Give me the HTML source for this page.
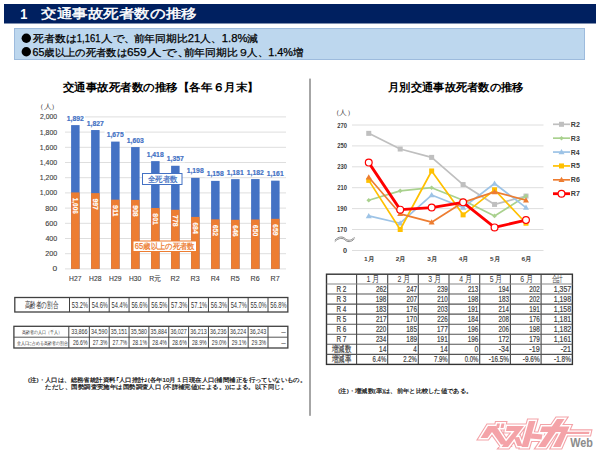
<!DOCTYPE html>
<html lang="ja"><head><meta charset="utf-8"><style>
html,body{margin:0;padding:0;background:#fff;width:600px;height:452px;overflow:hidden}
svg{display:block;font-family:"Liberation Sans", sans-serif}
</style></head><body>
<svg width="600" height="452" viewBox="0 0 600 452">
<rect width="600" height="452" fill="#fff"/>
<rect x="4" y="4" width="592" height="19.5" fill="#002060"/>
<text x="20.26" y="13.60" font-size="15.5" fill="#fff" font-weight="bold" dominant-baseline="central" textLength="7.09" lengthAdjust="spacingAndGlyphs" >1</text>
<text x="41.15" y="13.60" font-size="13.2" fill="#fff" font-weight="normal" dominant-baseline="central" textLength="155.56" lengthAdjust="spacingAndGlyphs" stroke="#fff" stroke-width="0.45">交通事故死者数の推移</text>
<rect x="14.5" y="28.5" width="570" height="31" fill="#bdd7ee" stroke="#9dbbdd" stroke-width="1"/>
<circle cx="26.3" cy="38.3" r="4.7" fill="#000"/>
<circle cx="26.3" cy="51.8" r="4.7" fill="#000"/>
<text x="32.90" y="38.20" font-size="10.4" fill="#000" font-weight="normal" dominant-baseline="central" textLength="43.54" lengthAdjust="spacingAndGlyphs" stroke="#000" stroke-width="0.25">死者数は</text>
<text x="76.87" y="38.20" font-size="10.4" fill="#000" font-weight="normal" dominant-baseline="central" textLength="23.57" lengthAdjust="spacingAndGlyphs" stroke="#000" stroke-width="0.25">1,161</text>
<text x="101.39" y="38.20" font-size="10.4" fill="#000" font-weight="normal" dominant-baseline="central" textLength="34.53" lengthAdjust="spacingAndGlyphs" stroke="#000" stroke-width="0.25">人で、</text>
<text x="133.64" y="38.20" font-size="10.4" fill="#000" font-weight="normal" dominant-baseline="central" textLength="124.67" lengthAdjust="spacingAndGlyphs" stroke="#000" stroke-width="0.25">前年同期比21人、1.8%減</text>
<text x="32.50" y="52.60" font-size="10.4" fill="#000" font-weight="normal" dominant-baseline="central" textLength="94.39" lengthAdjust="spacingAndGlyphs" stroke="#000" stroke-width="0.25">65歳以上の死者数は</text>
<text x="126.93" y="52.60" font-size="10.4" fill="#000" font-weight="normal" dominant-baseline="central" textLength="19.61" lengthAdjust="spacingAndGlyphs" stroke="#000" stroke-width="0.25">659</text>
<text x="147.36" y="52.60" font-size="10.4" fill="#000" font-weight="normal" dominant-baseline="central" textLength="43.97" lengthAdjust="spacingAndGlyphs" stroke="#000" stroke-width="0.25">人で、</text>
<text x="183.65" y="52.60" font-size="10.4" fill="#000" font-weight="normal" dominant-baseline="central" textLength="64.96" lengthAdjust="spacingAndGlyphs" stroke="#000" stroke-width="0.25">前年同期比９</text>
<text x="247.40" y="52.60" font-size="10.4" fill="#000" font-weight="normal" dominant-baseline="central" textLength="55.91" lengthAdjust="spacingAndGlyphs" stroke="#000" stroke-width="0.25">人、1.4%増</text>
<text x="62.60" y="86.70" font-size="11" fill="#000" font-weight="bold" dominant-baseline="central" textLength="196.11" lengthAdjust="spacingAndGlyphs" >交通事故死者数の推移【各年６月末】</text>
<text x="35.73" y="106.70" font-size="6.5" fill="#404040" font-weight="normal" dominant-baseline="central" textLength="23.54" lengthAdjust="spacingAndGlyphs" >（人）</text>
<line x1="65" x2="286" y1="268.90" y2="268.90" stroke="#dedede" stroke-width="1"/>
<text x="52.56" y="268.90" font-size="7" fill="#404040" font-weight="normal" dominant-baseline="central" textLength="4.67" lengthAdjust="spacingAndGlyphs" stroke="#404040" stroke-width="0.12">0</text>
<line x1="65" x2="286" y1="253.70" y2="253.70" stroke="#dedede" stroke-width="1"/>
<text x="45.19" y="253.70" font-size="7" fill="#404040" font-weight="normal" dominant-baseline="central" textLength="12.01" lengthAdjust="spacingAndGlyphs" stroke="#404040" stroke-width="0.12">200</text>
<line x1="65" x2="286" y1="238.50" y2="238.50" stroke="#dedede" stroke-width="1"/>
<text x="45.40" y="238.50" font-size="7" fill="#404040" font-weight="normal" dominant-baseline="central" textLength="11.80" lengthAdjust="spacingAndGlyphs" stroke="#404040" stroke-width="0.12">400</text>
<line x1="65" x2="286" y1="223.30" y2="223.30" stroke="#dedede" stroke-width="1"/>
<text x="45.19" y="223.30" font-size="7" fill="#404040" font-weight="normal" dominant-baseline="central" textLength="12.01" lengthAdjust="spacingAndGlyphs" stroke="#404040" stroke-width="0.12">600</text>
<line x1="65" x2="286" y1="208.10" y2="208.10" stroke="#dedede" stroke-width="1"/>
<text x="45.19" y="208.10" font-size="7" fill="#404040" font-weight="normal" dominant-baseline="central" textLength="12.01" lengthAdjust="spacingAndGlyphs" stroke="#404040" stroke-width="0.12">800</text>
<line x1="65" x2="286" y1="192.90" y2="192.90" stroke="#dedede" stroke-width="1"/>
<text x="39.80" y="192.90" font-size="7" fill="#404040" font-weight="normal" dominant-baseline="central" textLength="17.39" lengthAdjust="spacingAndGlyphs" stroke="#404040" stroke-width="0.12">1,000</text>
<line x1="65" x2="286" y1="177.70" y2="177.70" stroke="#dedede" stroke-width="1"/>
<text x="39.80" y="177.70" font-size="7" fill="#404040" font-weight="normal" dominant-baseline="central" textLength="17.39" lengthAdjust="spacingAndGlyphs" stroke="#404040" stroke-width="0.12">1,200</text>
<line x1="65" x2="286" y1="162.50" y2="162.50" stroke="#dedede" stroke-width="1"/>
<text x="39.80" y="162.50" font-size="7" fill="#404040" font-weight="normal" dominant-baseline="central" textLength="17.39" lengthAdjust="spacingAndGlyphs" stroke="#404040" stroke-width="0.12">1,400</text>
<line x1="65" x2="286" y1="147.30" y2="147.30" stroke="#dedede" stroke-width="1"/>
<text x="39.80" y="147.30" font-size="7" fill="#404040" font-weight="normal" dominant-baseline="central" textLength="17.39" lengthAdjust="spacingAndGlyphs" stroke="#404040" stroke-width="0.12">1,600</text>
<line x1="65" x2="286" y1="132.10" y2="132.10" stroke="#dedede" stroke-width="1"/>
<text x="39.80" y="132.10" font-size="7" fill="#404040" font-weight="normal" dominant-baseline="central" textLength="17.39" lengthAdjust="spacingAndGlyphs" stroke="#404040" stroke-width="0.12">1,800</text>
<line x1="65" x2="286" y1="116.90" y2="116.90" stroke="#dedede" stroke-width="1"/>
<text x="40.01" y="116.90" font-size="7" fill="#404040" font-weight="normal" dominant-baseline="central" textLength="17.18" lengthAdjust="spacingAndGlyphs" stroke="#404040" stroke-width="0.12">2,000</text>
<rect x="71.1" y="125.11" width="8.5" height="143.79" fill="#4472c4"/>
<rect x="71.1" y="192.44" width="8.5" height="76.46" fill="#ed7d31"/>
<rect x="64.60" y="113.61" width="20.40" height="8" fill="#fff"/>
<text x="66.73" y="118.11" font-size="7.3" fill="#4472c4" font-weight="bold" dominant-baseline="central" textLength="17.01" lengthAdjust="spacingAndGlyphs" stroke="#4472c4" stroke-width="0.2">1,892</text>
<text transform="translate(75.20,197.74) rotate(90)" font-size="7.8" fill="#fff" font-weight="bold" dominant-baseline="central" textLength="16" lengthAdjust="spacingAndGlyphs" stroke="#fff" stroke-width="0.15">1,006</text>
<text x="69.02" y="278.20" font-size="7" fill="#404040" font-weight="normal" dominant-baseline="central" textLength="12.36" lengthAdjust="spacingAndGlyphs" stroke="#404040" stroke-width="0.12">H27</text>
<rect x="91.1" y="130.05" width="8.5" height="138.85" fill="#4472c4"/>
<rect x="91.1" y="193.13" width="8.5" height="75.77" fill="#ed7d31"/>
<rect x="84.60" y="118.55" width="20.40" height="8" fill="#fff"/>
<text x="86.73" y="123.05" font-size="7.3" fill="#4472c4" font-weight="bold" dominant-baseline="central" textLength="17.01" lengthAdjust="spacingAndGlyphs" stroke="#4472c4" stroke-width="0.2">1,827</text>
<text transform="translate(95.20,198.43) rotate(90)" font-size="7.8" fill="#fff" font-weight="bold" dominant-baseline="central" textLength="11.5" lengthAdjust="spacingAndGlyphs" stroke="#fff" stroke-width="0.15">997</text>
<text x="89.02" y="278.20" font-size="7" fill="#404040" font-weight="normal" dominant-baseline="central" textLength="12.36" lengthAdjust="spacingAndGlyphs" stroke="#404040" stroke-width="0.12">H28</text>
<rect x="111.1" y="141.60" width="8.5" height="127.30" fill="#4472c4"/>
<rect x="111.1" y="199.66" width="8.5" height="69.24" fill="#ed7d31"/>
<rect x="104.60" y="130.10" width="20.40" height="8" fill="#fff"/>
<text x="106.73" y="134.60" font-size="7.3" fill="#4472c4" font-weight="bold" dominant-baseline="central" textLength="16.92" lengthAdjust="spacingAndGlyphs" stroke="#4472c4" stroke-width="0.2">1,675</text>
<text transform="translate(115.20,204.96) rotate(90)" font-size="7.8" fill="#fff" font-weight="bold" dominant-baseline="central" textLength="11.5" lengthAdjust="spacingAndGlyphs" stroke="#fff" stroke-width="0.15">911</text>
<text x="109.02" y="278.20" font-size="7" fill="#404040" font-weight="normal" dominant-baseline="central" textLength="12.36" lengthAdjust="spacingAndGlyphs" stroke="#404040" stroke-width="0.12">H29</text>
<rect x="131.1" y="147.07" width="8.5" height="121.83" fill="#4472c4"/>
<rect x="131.1" y="199.89" width="8.5" height="69.01" fill="#ed7d31"/>
<rect x="124.60" y="135.57" width="20.40" height="8" fill="#fff"/>
<text x="126.73" y="140.07" font-size="7.3" fill="#4472c4" font-weight="bold" dominant-baseline="central" textLength="17.01" lengthAdjust="spacingAndGlyphs" stroke="#4472c4" stroke-width="0.2">1,603</text>
<text transform="translate(135.20,205.19) rotate(90)" font-size="7.8" fill="#fff" font-weight="bold" dominant-baseline="central" textLength="11.5" lengthAdjust="spacingAndGlyphs" stroke="#fff" stroke-width="0.15">908</text>
<text x="129.02" y="278.20" font-size="7" fill="#404040" font-weight="normal" dominant-baseline="central" textLength="12.26" lengthAdjust="spacingAndGlyphs" stroke="#404040" stroke-width="0.12">H30</text>
<rect x="151.1" y="161.13" width="8.5" height="107.77" fill="#4472c4"/>
<rect x="151.1" y="208.02" width="8.5" height="60.88" fill="#ed7d31"/>
<rect x="144.60" y="149.63" width="20.40" height="8" fill="#fff"/>
<text x="146.73" y="154.13" font-size="7.3" fill="#4472c4" font-weight="bold" dominant-baseline="central" textLength="16.92" lengthAdjust="spacingAndGlyphs" stroke="#4472c4" stroke-width="0.2">1,418</text>
<text transform="translate(155.20,213.32) rotate(90)" font-size="7.8" fill="#fff" font-weight="bold" dominant-baseline="central" textLength="11.5" lengthAdjust="spacingAndGlyphs" stroke="#fff" stroke-width="0.15">801</text>
<text x="149.31" y="278.20" font-size="7" fill="#404040" font-weight="normal" dominant-baseline="central" textLength="11.78" lengthAdjust="spacingAndGlyphs" stroke="#404040" stroke-width="0.12">R元</text>
<rect x="171.1" y="165.77" width="8.5" height="103.13" fill="#4472c4"/>
<rect x="171.1" y="209.77" width="8.5" height="59.13" fill="#ed7d31"/>
<rect x="164.60" y="154.27" width="20.40" height="8" fill="#fff"/>
<text x="166.73" y="158.77" font-size="7.3" fill="#4472c4" font-weight="bold" dominant-baseline="central" textLength="17.01" lengthAdjust="spacingAndGlyphs" stroke="#4472c4" stroke-width="0.2">1,357</text>
<text transform="translate(175.20,215.07) rotate(90)" font-size="7.8" fill="#fff" font-weight="bold" dominant-baseline="central" textLength="11.5" lengthAdjust="spacingAndGlyphs" stroke="#fff" stroke-width="0.15">778</text>
<text x="170.64" y="278.20" font-size="7" fill="#404040" font-weight="normal" dominant-baseline="central" textLength="9.11" lengthAdjust="spacingAndGlyphs" stroke="#404040" stroke-width="0.12">R2</text>
<rect x="191.1" y="177.85" width="8.5" height="91.05" fill="#4472c4"/>
<rect x="191.1" y="216.92" width="8.5" height="51.98" fill="#ed7d31"/>
<rect x="184.60" y="166.35" width="20.40" height="8" fill="#fff"/>
<text x="186.73" y="170.85" font-size="7.3" fill="#4472c4" font-weight="bold" dominant-baseline="central" textLength="16.92" lengthAdjust="spacingAndGlyphs" stroke="#4472c4" stroke-width="0.2">1,198</text>
<text transform="translate(195.20,222.22) rotate(90)" font-size="7.8" fill="#fff" font-weight="bold" dominant-baseline="central" textLength="11.5" lengthAdjust="spacingAndGlyphs" stroke="#fff" stroke-width="0.15">684</text>
<text x="190.64" y="278.20" font-size="7" fill="#404040" font-weight="normal" dominant-baseline="central" textLength="9.11" lengthAdjust="spacingAndGlyphs" stroke="#404040" stroke-width="0.12">R3</text>
<rect x="211.1" y="180.89" width="8.5" height="88.01" fill="#4472c4"/>
<rect x="211.1" y="219.35" width="8.5" height="49.55" fill="#ed7d31"/>
<rect x="204.60" y="169.39" width="20.40" height="8" fill="#fff"/>
<text x="206.73" y="173.89" font-size="7.3" fill="#4472c4" font-weight="bold" dominant-baseline="central" textLength="16.92" lengthAdjust="spacingAndGlyphs" stroke="#4472c4" stroke-width="0.2">1,158</text>
<text transform="translate(215.20,224.65) rotate(90)" font-size="7.8" fill="#fff" font-weight="bold" dominant-baseline="central" textLength="11.5" lengthAdjust="spacingAndGlyphs" stroke="#fff" stroke-width="0.15">652</text>
<text x="210.65" y="278.20" font-size="7" fill="#404040" font-weight="normal" dominant-baseline="central" textLength="9.00" lengthAdjust="spacingAndGlyphs" stroke="#404040" stroke-width="0.12">R4</text>
<rect x="231.1" y="179.14" width="8.5" height="89.76" fill="#4472c4"/>
<rect x="231.1" y="219.80" width="8.5" height="49.10" fill="#ed7d31"/>
<rect x="224.60" y="167.64" width="20.40" height="8" fill="#fff"/>
<text x="226.73" y="172.14" font-size="7.3" fill="#4472c4" font-weight="bold" dominant-baseline="central" textLength="16.92" lengthAdjust="spacingAndGlyphs" stroke="#4472c4" stroke-width="0.2">1,181</text>
<text transform="translate(235.20,225.10) rotate(90)" font-size="7.8" fill="#fff" font-weight="bold" dominant-baseline="central" textLength="11.5" lengthAdjust="spacingAndGlyphs" stroke="#fff" stroke-width="0.15">646</text>
<text x="230.64" y="278.20" font-size="7" fill="#404040" font-weight="normal" dominant-baseline="central" textLength="9.11" lengthAdjust="spacingAndGlyphs" stroke="#404040" stroke-width="0.12">R5</text>
<rect x="251.1" y="179.07" width="8.5" height="89.83" fill="#4472c4"/>
<rect x="251.1" y="219.50" width="8.5" height="49.40" fill="#ed7d31"/>
<rect x="244.60" y="167.57" width="20.40" height="8" fill="#fff"/>
<text x="246.73" y="172.07" font-size="7.3" fill="#4472c4" font-weight="bold" dominant-baseline="central" textLength="17.01" lengthAdjust="spacingAndGlyphs" stroke="#4472c4" stroke-width="0.2">1,182</text>
<text transform="translate(255.20,224.80) rotate(90)" font-size="7.8" fill="#fff" font-weight="bold" dominant-baseline="central" textLength="11.5" lengthAdjust="spacingAndGlyphs" stroke="#fff" stroke-width="0.15">650</text>
<text x="250.64" y="278.20" font-size="7" fill="#404040" font-weight="normal" dominant-baseline="central" textLength="9.11" lengthAdjust="spacingAndGlyphs" stroke="#404040" stroke-width="0.12">R6</text>
<rect x="271.1" y="180.66" width="8.5" height="88.24" fill="#4472c4"/>
<rect x="271.1" y="218.82" width="8.5" height="50.08" fill="#ed7d31"/>
<rect x="264.60" y="169.16" width="20.40" height="8" fill="#fff"/>
<text x="266.73" y="173.66" font-size="7.3" fill="#4472c4" font-weight="bold" dominant-baseline="central" textLength="16.92" lengthAdjust="spacingAndGlyphs" stroke="#4472c4" stroke-width="0.2">1,161</text>
<text transform="translate(275.20,224.12) rotate(90)" font-size="7.8" fill="#fff" font-weight="bold" dominant-baseline="central" textLength="11.5" lengthAdjust="spacingAndGlyphs" stroke="#fff" stroke-width="0.15">659</text>
<text x="270.64" y="278.20" font-size="7" fill="#404040" font-weight="normal" dominant-baseline="central" textLength="9.11" lengthAdjust="spacingAndGlyphs" stroke="#404040" stroke-width="0.12">R7</text>
<rect x="142.5" y="173.5" width="39.5" height="11" fill="#fff" stroke="#4472c4" stroke-width="1"/>
<text x="147.91" y="178.60" font-size="8.3" fill="#4472c4" font-weight="normal" dominant-baseline="central" textLength="29.57" lengthAdjust="spacingAndGlyphs" stroke="#4472c4" stroke-width="0.25">全死者数</text>
<rect x="133" y="241" width="63.5" height="10.5" fill="#fff" stroke="#ed7d31" stroke-width="1"/>
<text x="134.85" y="246.30" font-size="8.3" fill="#ed7d31" font-weight="normal" dominant-baseline="central" textLength="59.83" lengthAdjust="spacingAndGlyphs" stroke="#ed7d31" stroke-width="0.25">65歳以上の死者数</text>
<rect x="14.8" y="297.5" width="273.05" height="14.5" fill="none" stroke="#404040" stroke-width="1.3"/>
<line x1="69.50" x2="69.50" y1="297.5" y2="312" stroke="#404040" stroke-width="1"/>
<line x1="89.35" x2="89.35" y1="297.5" y2="312" stroke="#404040" stroke-width="1"/>
<line x1="109.20" x2="109.20" y1="297.5" y2="312" stroke="#404040" stroke-width="1"/>
<line x1="129.05" x2="129.05" y1="297.5" y2="312" stroke="#404040" stroke-width="1"/>
<line x1="148.90" x2="148.90" y1="297.5" y2="312" stroke="#404040" stroke-width="1"/>
<line x1="168.75" x2="168.75" y1="297.5" y2="312" stroke="#404040" stroke-width="1"/>
<line x1="188.60" x2="188.60" y1="297.5" y2="312" stroke="#404040" stroke-width="1"/>
<line x1="208.45" x2="208.45" y1="297.5" y2="312" stroke="#404040" stroke-width="1"/>
<line x1="228.30" x2="228.30" y1="297.5" y2="312" stroke="#404040" stroke-width="1"/>
<line x1="248.15" x2="248.15" y1="297.5" y2="312" stroke="#404040" stroke-width="1"/>
<line x1="268.00" x2="268.00" y1="297.5" y2="312" stroke="#404040" stroke-width="1"/>
<text x="24.65" y="305.00" font-size="9" fill="#333" font-weight="normal" dominant-baseline="central" textLength="33.60" lengthAdjust="spacingAndGlyphs" >高齢者の割合</text>
<text x="71.86" y="304.80" font-size="9" fill="#333" font-weight="normal" dominant-baseline="central" textLength="16.18" lengthAdjust="spacingAndGlyphs" >53.2%</text>
<text x="91.71" y="304.80" font-size="9" fill="#333" font-weight="normal" dominant-baseline="central" textLength="16.18" lengthAdjust="spacingAndGlyphs" >54.6%</text>
<text x="111.56" y="304.80" font-size="9" fill="#333" font-weight="normal" dominant-baseline="central" textLength="16.18" lengthAdjust="spacingAndGlyphs" >54.4%</text>
<text x="131.41" y="304.80" font-size="9" fill="#333" font-weight="normal" dominant-baseline="central" textLength="16.18" lengthAdjust="spacingAndGlyphs" >56.6%</text>
<text x="151.26" y="304.80" font-size="9" fill="#333" font-weight="normal" dominant-baseline="central" textLength="16.18" lengthAdjust="spacingAndGlyphs" >56.5%</text>
<text x="171.11" y="304.80" font-size="9" fill="#333" font-weight="normal" dominant-baseline="central" textLength="16.18" lengthAdjust="spacingAndGlyphs" >57.3%</text>
<text x="190.96" y="304.80" font-size="9" fill="#333" font-weight="normal" dominant-baseline="central" textLength="16.18" lengthAdjust="spacingAndGlyphs" >57.1%</text>
<text x="210.81" y="304.80" font-size="9" fill="#333" font-weight="normal" dominant-baseline="central" textLength="16.18" lengthAdjust="spacingAndGlyphs" >56.3%</text>
<text x="230.66" y="304.80" font-size="9" fill="#333" font-weight="normal" dominant-baseline="central" textLength="16.18" lengthAdjust="spacingAndGlyphs" >54.7%</text>
<text x="250.51" y="304.80" font-size="9" fill="#333" font-weight="normal" dominant-baseline="central" textLength="16.18" lengthAdjust="spacingAndGlyphs" >55.0%</text>
<text x="270.36" y="304.80" font-size="9" fill="#333" font-weight="normal" dominant-baseline="central" textLength="16.18" lengthAdjust="spacingAndGlyphs" >56.8%</text>
<rect x="13.9" y="326.3" width="273.95" height="21.70" fill="none" stroke="#404040" stroke-width="1.3"/>
<line x1="13.9" x2="287.85" y1="337.2" y2="337.2" stroke="#555" stroke-width="1"/>
<line x1="68.80" x2="68.80" y1="326.3" y2="348" stroke="#404040" stroke-width="1"/>
<line x1="89.35" x2="89.35" y1="326.3" y2="348" stroke="#404040" stroke-width="1"/>
<line x1="109.20" x2="109.20" y1="326.3" y2="348" stroke="#404040" stroke-width="1"/>
<line x1="129.05" x2="129.05" y1="326.3" y2="348" stroke="#404040" stroke-width="1"/>
<line x1="148.90" x2="148.90" y1="326.3" y2="348" stroke="#404040" stroke-width="1"/>
<line x1="168.75" x2="168.75" y1="326.3" y2="348" stroke="#404040" stroke-width="1"/>
<line x1="188.60" x2="188.60" y1="326.3" y2="348" stroke="#404040" stroke-width="1"/>
<line x1="208.45" x2="208.45" y1="326.3" y2="348" stroke="#404040" stroke-width="1"/>
<line x1="228.30" x2="228.30" y1="326.3" y2="348" stroke="#404040" stroke-width="1"/>
<line x1="248.15" x2="248.15" y1="326.3" y2="348" stroke="#404040" stroke-width="1"/>
<line x1="268.00" x2="268.00" y1="326.3" y2="348" stroke="#404040" stroke-width="1"/>
<text x="21.54" y="331.80" font-size="5" fill="#333" font-weight="normal" dominant-baseline="central" textLength="40.23" lengthAdjust="spacingAndGlyphs" >高齢者の人口（千人）</text>
<text x="16.70" y="342.60" font-size="5" fill="#333" font-weight="normal" dominant-baseline="central" textLength="50.96" lengthAdjust="spacingAndGlyphs" >全人口に占める高齢者の割合</text>
<text x="71.15" y="331.80" font-size="8" fill="#333" font-weight="normal" dominant-baseline="central" textLength="16.44" lengthAdjust="spacingAndGlyphs" >33,866</text>
<text x="72.89" y="342.60" font-size="8" fill="#333" font-weight="normal" dominant-baseline="central" textLength="14.59" lengthAdjust="spacingAndGlyphs" >26.6%</text>
<text x="91.00" y="331.80" font-size="8" fill="#333" font-weight="normal" dominant-baseline="central" textLength="16.37" lengthAdjust="spacingAndGlyphs" >34,590</text>
<text x="92.74" y="342.60" font-size="8" fill="#333" font-weight="normal" dominant-baseline="central" textLength="14.59" lengthAdjust="spacingAndGlyphs" >27.3%</text>
<text x="110.85" y="331.80" font-size="8" fill="#333" font-weight="normal" dominant-baseline="central" textLength="16.44" lengthAdjust="spacingAndGlyphs" >35,151</text>
<text x="112.59" y="342.60" font-size="8" fill="#333" font-weight="normal" dominant-baseline="central" textLength="14.59" lengthAdjust="spacingAndGlyphs" >27.7%</text>
<text x="130.70" y="331.80" font-size="8" fill="#333" font-weight="normal" dominant-baseline="central" textLength="16.37" lengthAdjust="spacingAndGlyphs" >35,580</text>
<text x="132.44" y="342.60" font-size="8" fill="#333" font-weight="normal" dominant-baseline="central" textLength="14.59" lengthAdjust="spacingAndGlyphs" >28.1%</text>
<text x="150.55" y="331.80" font-size="8" fill="#333" font-weight="normal" dominant-baseline="central" textLength="16.30" lengthAdjust="spacingAndGlyphs" >35,884</text>
<text x="152.29" y="342.60" font-size="8" fill="#333" font-weight="normal" dominant-baseline="central" textLength="14.59" lengthAdjust="spacingAndGlyphs" >28.4%</text>
<text x="170.40" y="331.80" font-size="8" fill="#333" font-weight="normal" dominant-baseline="central" textLength="16.44" lengthAdjust="spacingAndGlyphs" >36,027</text>
<text x="172.14" y="342.60" font-size="8" fill="#333" font-weight="normal" dominant-baseline="central" textLength="14.59" lengthAdjust="spacingAndGlyphs" >28.6%</text>
<text x="190.25" y="331.80" font-size="8" fill="#333" font-weight="normal" dominant-baseline="central" textLength="16.44" lengthAdjust="spacingAndGlyphs" >36,213</text>
<text x="191.99" y="342.60" font-size="8" fill="#333" font-weight="normal" dominant-baseline="central" textLength="14.59" lengthAdjust="spacingAndGlyphs" >28.9%</text>
<text x="210.10" y="331.80" font-size="8" fill="#333" font-weight="normal" dominant-baseline="central" textLength="16.44" lengthAdjust="spacingAndGlyphs" >36,236</text>
<text x="211.84" y="342.60" font-size="8" fill="#333" font-weight="normal" dominant-baseline="central" textLength="14.59" lengthAdjust="spacingAndGlyphs" >29.0%</text>
<text x="229.95" y="331.80" font-size="8" fill="#333" font-weight="normal" dominant-baseline="central" textLength="16.30" lengthAdjust="spacingAndGlyphs" >36,224</text>
<text x="231.69" y="342.60" font-size="8" fill="#333" font-weight="normal" dominant-baseline="central" textLength="14.59" lengthAdjust="spacingAndGlyphs" >29.1%</text>
<text x="249.80" y="331.80" font-size="8" fill="#333" font-weight="normal" dominant-baseline="central" textLength="16.44" lengthAdjust="spacingAndGlyphs" >36,243</text>
<text x="251.54" y="342.60" font-size="8" fill="#333" font-weight="normal" dominant-baseline="central" textLength="14.59" lengthAdjust="spacingAndGlyphs" >29.3%</text>
<text x="281.35" y="331.80" font-size="7" fill="#333" font-weight="normal" dominant-baseline="central" textLength="4.50" lengthAdjust="spacingAndGlyphs" >—</text>
<text x="281.35" y="342.60" font-size="7" fill="#333" font-weight="normal" dominant-baseline="central" textLength="4.50" lengthAdjust="spacingAndGlyphs" >—</text>
<text x="27.97" y="380.30" font-size="5.8" fill="#111" font-weight="normal" dominant-baseline="central" textLength="278.32" lengthAdjust="spacingAndGlyphs" stroke="#111" stroke-width="0.2">(注)・人口は、総務省統計資料｢人口推計｣(各年10月１日現在人口(補間補正を行っていないもの。</text>
<text x="45.47" y="386.50" font-size="5.8" fill="#111" font-weight="normal" dominant-baseline="central" textLength="241.63" lengthAdjust="spacingAndGlyphs" stroke="#111" stroke-width="0.2">ただし、国勢調査実施年は国勢調査人口 (不詳補完値)による。))による。以下同じ。</text>
<rect x="309" y="78.6" width="2" height="337.2" fill="#a6a6a6"/>
<text x="388.10" y="86.80" font-size="11" fill="#000" font-weight="bold" dominant-baseline="central" textLength="135.50" lengthAdjust="spacingAndGlyphs" >月別交通事故死者数の推移</text>
<text x="331.67" y="112.50" font-size="6.5" fill="#404040" font-weight="normal" dominant-baseline="central" textLength="23.36" lengthAdjust="spacingAndGlyphs" >（人）</text>
<line x1="352" x2="543.5" y1="125.00" y2="125.00" stroke="#dedede" stroke-width="1"/>
<text x="337.22" y="125.00" font-size="6.5" fill="#404040" font-weight="bold" dominant-baseline="central" textLength="9.77" lengthAdjust="spacingAndGlyphs" >270</text>
<line x1="352" x2="543.5" y1="145.90" y2="145.90" stroke="#dedede" stroke-width="1"/>
<text x="337.22" y="145.90" font-size="6.5" fill="#404040" font-weight="bold" dominant-baseline="central" textLength="9.77" lengthAdjust="spacingAndGlyphs" >250</text>
<line x1="352" x2="543.5" y1="166.80" y2="166.80" stroke="#dedede" stroke-width="1"/>
<text x="337.22" y="166.80" font-size="6.5" fill="#404040" font-weight="bold" dominant-baseline="central" textLength="9.77" lengthAdjust="spacingAndGlyphs" >230</text>
<line x1="352" x2="543.5" y1="187.70" y2="187.70" stroke="#dedede" stroke-width="1"/>
<text x="337.22" y="187.70" font-size="6.5" fill="#404040" font-weight="bold" dominant-baseline="central" textLength="9.77" lengthAdjust="spacingAndGlyphs" >210</text>
<line x1="352" x2="543.5" y1="208.60" y2="208.60" stroke="#dedede" stroke-width="1"/>
<text x="337.03" y="208.60" font-size="6.5" fill="#404040" font-weight="bold" dominant-baseline="central" textLength="9.97" lengthAdjust="spacingAndGlyphs" >190</text>
<line x1="352" x2="543.5" y1="229.50" y2="229.50" stroke="#dedede" stroke-width="1"/>
<text x="337.03" y="229.50" font-size="6.5" fill="#404040" font-weight="bold" dominant-baseline="central" textLength="9.97" lengthAdjust="spacingAndGlyphs" >170</text>
<line x1="352" x2="543.5" y1="250.50" y2="250.50" stroke="#dedede" stroke-width="1"/>
<text x="342.97" y="250.50" font-size="6.5" fill="#404040" font-weight="bold" dominant-baseline="central" textLength="4.07" lengthAdjust="spacingAndGlyphs" >0</text>
<path d="M334.8 240.2 C339 236, 343 236.5, 345 238.5 S351 241.5, 354.5 237.2" fill="none" stroke="#8c8c8c" stroke-width="1"/>
<path d="M334.8 241.6 C339 237.4, 343 237.9, 345 239.9 S351 242.9, 354.5 238.6" fill="none" stroke="#8c8c8c" stroke-width="1"/>
<text x="364.12" y="258.50" font-size="6" fill="#404040" font-weight="bold" dominant-baseline="central" textLength="10.25" lengthAdjust="spacingAndGlyphs" >1月</text>
<text x="395.68" y="258.50" font-size="6" fill="#404040" font-weight="bold" dominant-baseline="central" textLength="10.12" lengthAdjust="spacingAndGlyphs" >2月</text>
<text x="427.24" y="258.50" font-size="6" fill="#404040" font-weight="bold" dominant-baseline="central" textLength="9.99" lengthAdjust="spacingAndGlyphs" >3月</text>
<text x="458.80" y="258.50" font-size="6" fill="#404040" font-weight="bold" dominant-baseline="central" textLength="9.87" lengthAdjust="spacingAndGlyphs" >4月</text>
<text x="490.14" y="258.50" font-size="6" fill="#404040" font-weight="bold" dominant-baseline="central" textLength="9.99" lengthAdjust="spacingAndGlyphs" >5月</text>
<text x="521.48" y="258.50" font-size="6" fill="#404040" font-weight="bold" dominant-baseline="central" textLength="10.12" lengthAdjust="spacingAndGlyphs" >6月</text>
<polyline points="368.75,133.36 400.20,149.03 431.65,157.39 463.10,184.56 494.55,204.42 526.00,196.06" fill="none" stroke="#bfbfbf" stroke-width="1.7" stroke-linejoin="round"/>
<rect x="366.25" y="130.86" width="5.0" height="5.0" fill="#bfbfbf"/>
<rect x="397.70" y="146.53" width="5.0" height="5.0" fill="#bfbfbf"/>
<rect x="429.15" y="154.89" width="5.0" height="5.0" fill="#bfbfbf"/>
<rect x="460.60" y="182.06" width="5.0" height="5.0" fill="#bfbfbf"/>
<rect x="492.05" y="201.92" width="5.0" height="5.0" fill="#bfbfbf"/>
<rect x="523.50" y="193.56" width="5.0" height="5.0" fill="#bfbfbf"/>
<line x1="553" x2="570" y1="124.30" y2="124.30" stroke="#bfbfbf" stroke-width="1.7"/>
<rect x="559.00" y="121.80" width="5.0" height="5.0" fill="#bfbfbf"/>
<text x="570.86" y="124.30" font-size="6.4" fill="#404040" font-weight="bold" dominant-baseline="central" textLength="9.02" lengthAdjust="spacingAndGlyphs" >R2</text>
<polyline points="368.75,200.24 400.20,190.83 431.65,187.70 463.10,200.24 494.55,215.91 526.00,196.06" fill="none" stroke="#a9d18e" stroke-width="1.7" stroke-linejoin="round"/>
<path d="M368.75 197.94 L371.05 200.24 L368.75 202.54 L366.45 200.24Z" fill="#a9d18e"/>
<path d="M400.20 188.53 L402.50 190.83 L400.20 193.13 L397.90 190.83Z" fill="#a9d18e"/>
<path d="M431.65 185.40 L433.95 187.70 L431.65 190.00 L429.35 187.70Z" fill="#a9d18e"/>
<path d="M463.10 197.94 L465.40 200.24 L463.10 202.54 L460.80 200.24Z" fill="#a9d18e"/>
<path d="M494.55 213.61 L496.85 215.91 L494.55 218.22 L492.25 215.91Z" fill="#a9d18e"/>
<path d="M526.00 193.76 L528.30 196.06 L526.00 198.36 L523.70 196.06Z" fill="#a9d18e"/>
<line x1="553" x2="570" y1="138.18" y2="138.18" stroke="#a9d18e" stroke-width="1.7"/>
<path d="M561.50 135.88 L563.80 138.18 L561.50 140.48 L559.20 138.18Z" fill="#a9d18e"/>
<text x="570.86" y="138.18" font-size="6.4" fill="#404040" font-weight="bold" dominant-baseline="central" textLength="9.02" lengthAdjust="spacingAndGlyphs" >R3</text>
<polyline points="368.75,215.91 400.20,223.23 431.65,195.01 463.10,207.56 494.55,183.52 526.00,207.56" fill="none" stroke="#9dc3e6" stroke-width="1.7" stroke-linejoin="round"/>
<path d="M368.75 212.91 L371.75 218.16 L365.75 218.16Z" fill="#9dc3e6"/>
<path d="M400.20 220.23 L403.20 225.48 L397.20 225.48Z" fill="#9dc3e6"/>
<path d="M431.65 192.01 L434.65 197.26 L428.65 197.26Z" fill="#9dc3e6"/>
<path d="M463.10 204.56 L466.10 209.81 L460.10 209.81Z" fill="#9dc3e6"/>
<path d="M494.55 180.52 L497.55 185.77 L491.55 185.77Z" fill="#9dc3e6"/>
<path d="M526.00 204.56 L529.00 209.81 L523.00 209.81Z" fill="#9dc3e6"/>
<line x1="553" x2="570" y1="152.06" y2="152.06" stroke="#9dc3e6" stroke-width="1.7"/>
<path d="M561.50 149.06 L564.50 154.31 L558.50 154.31Z" fill="#9dc3e6"/>
<text x="570.87" y="152.06" font-size="6.4" fill="#404040" font-weight="bold" dominant-baseline="central" textLength="8.79" lengthAdjust="spacingAndGlyphs" >R4</text>
<polyline points="368.75,180.38 400.20,229.50 431.65,170.98 463.10,214.87 494.55,189.79 526.00,223.23" fill="none" stroke="#ffc000" stroke-width="1.7" stroke-linejoin="round"/>
<rect x="366.25" y="177.88" width="5.0" height="5.0" fill="#ffc000"/>
<rect x="397.70" y="227.00" width="5.0" height="5.0" fill="#ffc000"/>
<rect x="429.15" y="168.48" width="5.0" height="5.0" fill="#ffc000"/>
<rect x="460.60" y="212.37" width="5.0" height="5.0" fill="#ffc000"/>
<rect x="492.05" y="187.29" width="5.0" height="5.0" fill="#ffc000"/>
<rect x="523.50" y="220.73" width="5.0" height="5.0" fill="#ffc000"/>
<line x1="553" x2="570" y1="165.94" y2="165.94" stroke="#ffc000" stroke-width="1.7"/>
<rect x="559.00" y="163.44" width="5.0" height="5.0" fill="#ffc000"/>
<text x="570.86" y="165.94" font-size="6.4" fill="#404040" font-weight="bold" dominant-baseline="central" textLength="9.02" lengthAdjust="spacingAndGlyphs" >R5</text>
<polyline points="368.75,177.25 400.20,213.82 431.65,222.19 463.10,202.33 494.55,191.88 526.00,200.24" fill="none" stroke="#ed7d31" stroke-width="1.7" stroke-linejoin="round"/>
<path d="M368.75 174.25 L371.75 179.50 L365.75 179.50Z" fill="#ed7d31"/>
<path d="M400.20 210.82 L403.20 216.07 L397.20 216.07Z" fill="#ed7d31"/>
<path d="M431.65 219.19 L434.65 224.44 L428.65 224.44Z" fill="#ed7d31"/>
<path d="M463.10 199.33 L466.10 204.58 L460.10 204.58Z" fill="#ed7d31"/>
<path d="M494.55 188.88 L497.55 194.13 L491.55 194.13Z" fill="#ed7d31"/>
<path d="M526.00 197.24 L529.00 202.49 L523.00 202.49Z" fill="#ed7d31"/>
<line x1="553" x2="570" y1="179.82" y2="179.82" stroke="#ed7d31" stroke-width="1.7"/>
<path d="M561.50 176.82 L564.50 182.07 L558.50 182.07Z" fill="#ed7d31"/>
<text x="570.86" y="179.82" font-size="6.4" fill="#404040" font-weight="bold" dominant-baseline="central" textLength="9.02" lengthAdjust="spacingAndGlyphs" >R6</text>
<polyline points="368.75,162.62 400.20,209.64 431.65,207.56 463.10,202.33 494.55,227.41 526.00,220.09" fill="none" stroke="#ff0000" stroke-width="2.8" stroke-linejoin="round"/>
<circle cx="368.75" cy="162.62" r="3.4" fill="#fff" stroke="#ff0000" stroke-width="1.2"/>
<circle cx="400.20" cy="209.64" r="3.4" fill="#fff" stroke="#ff0000" stroke-width="1.2"/>
<circle cx="431.65" cy="207.56" r="3.4" fill="#fff" stroke="#ff0000" stroke-width="1.2"/>
<circle cx="463.10" cy="202.33" r="3.4" fill="#fff" stroke="#ff0000" stroke-width="1.2"/>
<circle cx="494.55" cy="227.41" r="3.4" fill="#fff" stroke="#ff0000" stroke-width="1.2"/>
<circle cx="526.00" cy="220.09" r="3.4" fill="#fff" stroke="#ff0000" stroke-width="1.2"/>
<line x1="553" x2="570" y1="193.70" y2="193.70" stroke="#ff0000" stroke-width="2.8"/>
<circle cx="561.50" cy="193.70" r="3.4" fill="#fff" stroke="#ff0000" stroke-width="1.2"/>
<text x="570.85" y="193.70" font-size="6.4" fill="#404040" font-weight="bold" dominant-baseline="central" textLength="9.14" lengthAdjust="spacingAndGlyphs" >R7</text>
<rect x="326.5" y="274.2" width="245.90" height="90.20" fill="none" stroke="#333" stroke-width="1.4"/>
<line x1="356.6" x2="356.6" y1="274.2" y2="364.4" stroke="#444" stroke-width="1.1"/>
<line x1="387.7" x2="387.7" y1="274.2" y2="364.4" stroke="#444" stroke-width="1.1"/>
<line x1="418.3" x2="418.3" y1="274.2" y2="364.4" stroke="#444" stroke-width="1.1"/>
<line x1="449.0" x2="449.0" y1="274.2" y2="364.4" stroke="#444" stroke-width="1.1"/>
<line x1="479.7" x2="479.7" y1="274.2" y2="364.4" stroke="#444" stroke-width="1.1"/>
<line x1="510.4" x2="510.4" y1="274.2" y2="364.4" stroke="#444" stroke-width="1.1"/>
<line x1="541.1" x2="541.1" y1="274.2" y2="364.4" stroke="#444" stroke-width="1.1"/>
<line x1="326.5" x2="572.4" y1="284.00" y2="284.00" stroke="#888" stroke-width="1.1"/>
<line x1="326.5" x2="572.4" y1="294.05" y2="294.05" stroke="#555" stroke-width="1.1"/>
<line x1="326.5" x2="572.4" y1="304.10" y2="304.10" stroke="#555" stroke-width="1.1"/>
<line x1="326.5" x2="572.4" y1="314.15" y2="314.15" stroke="#555" stroke-width="1.1"/>
<line x1="326.5" x2="572.4" y1="324.20" y2="324.20" stroke="#555" stroke-width="1.1"/>
<line x1="326.5" x2="572.4" y1="334.25" y2="334.25" stroke="#555" stroke-width="1.1"/>
<line x1="326.5" x2="572.4" y1="344.30" y2="344.30" stroke="#555" stroke-width="1.1"/>
<line x1="326.5" x2="572.4" y1="354.35" y2="354.35" stroke="#555" stroke-width="1.1"/>
<text x="366.54" y="279.10" font-size="8.6" fill="#404040" font-weight="normal" dominant-baseline="central" textLength="13.31" lengthAdjust="spacingAndGlyphs" >1 月</text>
<text x="397.57" y="279.10" font-size="8.6" fill="#404040" font-weight="normal" dominant-baseline="central" textLength="13.11" lengthAdjust="spacingAndGlyphs" >2 月</text>
<text x="428.30" y="279.10" font-size="8.6" fill="#404040" font-weight="normal" dominant-baseline="central" textLength="13.02" lengthAdjust="spacingAndGlyphs" >3 月</text>
<text x="459.17" y="279.10" font-size="8.6" fill="#404040" font-weight="normal" dominant-baseline="central" textLength="12.83" lengthAdjust="spacingAndGlyphs" >4 月</text>
<text x="489.70" y="279.10" font-size="8.6" fill="#404040" font-weight="normal" dominant-baseline="central" textLength="13.02" lengthAdjust="spacingAndGlyphs" >5 月</text>
<text x="520.32" y="279.10" font-size="8.6" fill="#404040" font-weight="normal" dominant-baseline="central" textLength="13.11" lengthAdjust="spacingAndGlyphs" >6 月</text>
<text x="551.58" y="279.10" font-size="8.6" fill="#404040" font-weight="normal" dominant-baseline="central" textLength="11.40" lengthAdjust="spacingAndGlyphs" >合計</text>
<text x="336.43" y="288.72" font-size="8.6" fill="#404040" font-weight="normal" dominant-baseline="central" textLength="10.01" lengthAdjust="spacingAndGlyphs" stroke="#404040" stroke-width="0.2">R 2</text>
<text x="375.91" y="288.72" font-size="8.6" fill="#404040" font-weight="normal" dominant-baseline="central" textLength="10.47" lengthAdjust="spacingAndGlyphs" stroke="#404040" stroke-width="0.2">262</text>
<text x="406.51" y="288.72" font-size="8.6" fill="#404040" font-weight="normal" dominant-baseline="central" textLength="10.47" lengthAdjust="spacingAndGlyphs" stroke="#404040" stroke-width="0.2">247</text>
<text x="437.21" y="288.72" font-size="8.6" fill="#404040" font-weight="normal" dominant-baseline="central" textLength="10.47" lengthAdjust="spacingAndGlyphs" stroke="#404040" stroke-width="0.2">239</text>
<text x="467.91" y="288.72" font-size="8.6" fill="#404040" font-weight="normal" dominant-baseline="central" textLength="10.39" lengthAdjust="spacingAndGlyphs" stroke="#404040" stroke-width="0.2">213</text>
<text x="498.46" y="288.72" font-size="8.6" fill="#404040" font-weight="normal" dominant-baseline="central" textLength="10.47" lengthAdjust="spacingAndGlyphs" stroke="#404040" stroke-width="0.2">194</text>
<text x="529.31" y="288.72" font-size="8.6" fill="#404040" font-weight="normal" dominant-baseline="central" textLength="10.47" lengthAdjust="spacingAndGlyphs" stroke="#404040" stroke-width="0.2">202</text>
<text x="553.82" y="288.72" font-size="8.6" fill="#404040" font-weight="normal" dominant-baseline="central" textLength="17.29" lengthAdjust="spacingAndGlyphs" stroke="#404040" stroke-width="0.2">1,357</text>
<text x="336.43" y="298.78" font-size="8.6" fill="#404040" font-weight="normal" dominant-baseline="central" textLength="9.93" lengthAdjust="spacingAndGlyphs" stroke="#404040" stroke-width="0.2">R 3</text>
<text x="375.76" y="298.78" font-size="8.6" fill="#404040" font-weight="normal" dominant-baseline="central" textLength="10.55" lengthAdjust="spacingAndGlyphs" stroke="#404040" stroke-width="0.2">198</text>
<text x="406.51" y="298.78" font-size="8.6" fill="#404040" font-weight="normal" dominant-baseline="central" textLength="10.47" lengthAdjust="spacingAndGlyphs" stroke="#404040" stroke-width="0.2">207</text>
<text x="437.21" y="298.78" font-size="8.6" fill="#404040" font-weight="normal" dominant-baseline="central" textLength="10.39" lengthAdjust="spacingAndGlyphs" stroke="#404040" stroke-width="0.2">210</text>
<text x="467.76" y="298.78" font-size="8.6" fill="#404040" font-weight="normal" dominant-baseline="central" textLength="10.55" lengthAdjust="spacingAndGlyphs" stroke="#404040" stroke-width="0.2">198</text>
<text x="498.46" y="298.78" font-size="8.6" fill="#404040" font-weight="normal" dominant-baseline="central" textLength="10.55" lengthAdjust="spacingAndGlyphs" stroke="#404040" stroke-width="0.2">183</text>
<text x="529.31" y="298.78" font-size="8.6" fill="#404040" font-weight="normal" dominant-baseline="central" textLength="10.47" lengthAdjust="spacingAndGlyphs" stroke="#404040" stroke-width="0.2">202</text>
<text x="553.82" y="298.78" font-size="8.6" fill="#404040" font-weight="normal" dominant-baseline="central" textLength="17.21" lengthAdjust="spacingAndGlyphs" stroke="#404040" stroke-width="0.2">1,198</text>
<text x="336.43" y="308.82" font-size="8.6" fill="#404040" font-weight="normal" dominant-baseline="central" textLength="9.85" lengthAdjust="spacingAndGlyphs" stroke="#404040" stroke-width="0.2">R 4</text>
<text x="375.76" y="308.82" font-size="8.6" fill="#404040" font-weight="normal" dominant-baseline="central" textLength="10.55" lengthAdjust="spacingAndGlyphs" stroke="#404040" stroke-width="0.2">183</text>
<text x="406.36" y="308.82" font-size="8.6" fill="#404040" font-weight="normal" dominant-baseline="central" textLength="10.55" lengthAdjust="spacingAndGlyphs" stroke="#404040" stroke-width="0.2">176</text>
<text x="437.21" y="308.82" font-size="8.6" fill="#404040" font-weight="normal" dominant-baseline="central" textLength="10.39" lengthAdjust="spacingAndGlyphs" stroke="#404040" stroke-width="0.2">203</text>
<text x="467.76" y="308.82" font-size="8.6" fill="#404040" font-weight="normal" dominant-baseline="central" textLength="10.63" lengthAdjust="spacingAndGlyphs" stroke="#404040" stroke-width="0.2">191</text>
<text x="498.61" y="308.82" font-size="8.6" fill="#404040" font-weight="normal" dominant-baseline="central" textLength="10.32" lengthAdjust="spacingAndGlyphs" stroke="#404040" stroke-width="0.2">214</text>
<text x="529.16" y="308.82" font-size="8.6" fill="#404040" font-weight="normal" dominant-baseline="central" textLength="10.63" lengthAdjust="spacingAndGlyphs" stroke="#404040" stroke-width="0.2">191</text>
<text x="553.82" y="308.82" font-size="8.6" fill="#404040" font-weight="normal" dominant-baseline="central" textLength="17.21" lengthAdjust="spacingAndGlyphs" stroke="#404040" stroke-width="0.2">1,158</text>
<text x="336.43" y="318.87" font-size="8.6" fill="#404040" font-weight="normal" dominant-baseline="central" textLength="9.93" lengthAdjust="spacingAndGlyphs" stroke="#404040" stroke-width="0.2">R 5</text>
<text x="375.91" y="318.87" font-size="8.6" fill="#404040" font-weight="normal" dominant-baseline="central" textLength="10.47" lengthAdjust="spacingAndGlyphs" stroke="#404040" stroke-width="0.2">217</text>
<text x="406.36" y="318.87" font-size="8.6" fill="#404040" font-weight="normal" dominant-baseline="central" textLength="10.55" lengthAdjust="spacingAndGlyphs" stroke="#404040" stroke-width="0.2">170</text>
<text x="437.21" y="318.87" font-size="8.6" fill="#404040" font-weight="normal" dominant-baseline="central" textLength="10.39" lengthAdjust="spacingAndGlyphs" stroke="#404040" stroke-width="0.2">226</text>
<text x="467.76" y="318.87" font-size="8.6" fill="#404040" font-weight="normal" dominant-baseline="central" textLength="10.47" lengthAdjust="spacingAndGlyphs" stroke="#404040" stroke-width="0.2">184</text>
<text x="498.61" y="318.87" font-size="8.6" fill="#404040" font-weight="normal" dominant-baseline="central" textLength="10.39" lengthAdjust="spacingAndGlyphs" stroke="#404040" stroke-width="0.2">208</text>
<text x="529.16" y="318.87" font-size="8.6" fill="#404040" font-weight="normal" dominant-baseline="central" textLength="10.55" lengthAdjust="spacingAndGlyphs" stroke="#404040" stroke-width="0.2">176</text>
<text x="553.82" y="318.87" font-size="8.6" fill="#404040" font-weight="normal" dominant-baseline="central" textLength="17.29" lengthAdjust="spacingAndGlyphs" stroke="#404040" stroke-width="0.2">1,181</text>
<text x="336.43" y="328.93" font-size="8.6" fill="#404040" font-weight="normal" dominant-baseline="central" textLength="9.93" lengthAdjust="spacingAndGlyphs" stroke="#404040" stroke-width="0.2">R 6</text>
<text x="375.91" y="328.93" font-size="8.6" fill="#404040" font-weight="normal" dominant-baseline="central" textLength="10.39" lengthAdjust="spacingAndGlyphs" stroke="#404040" stroke-width="0.2">220</text>
<text x="406.36" y="328.93" font-size="8.6" fill="#404040" font-weight="normal" dominant-baseline="central" textLength="10.55" lengthAdjust="spacingAndGlyphs" stroke="#404040" stroke-width="0.2">185</text>
<text x="437.06" y="328.93" font-size="8.6" fill="#404040" font-weight="normal" dominant-baseline="central" textLength="10.63" lengthAdjust="spacingAndGlyphs" stroke="#404040" stroke-width="0.2">177</text>
<text x="467.76" y="328.93" font-size="8.6" fill="#404040" font-weight="normal" dominant-baseline="central" textLength="10.55" lengthAdjust="spacingAndGlyphs" stroke="#404040" stroke-width="0.2">196</text>
<text x="498.61" y="328.93" font-size="8.6" fill="#404040" font-weight="normal" dominant-baseline="central" textLength="10.39" lengthAdjust="spacingAndGlyphs" stroke="#404040" stroke-width="0.2">206</text>
<text x="529.16" y="328.93" font-size="8.6" fill="#404040" font-weight="normal" dominant-baseline="central" textLength="10.55" lengthAdjust="spacingAndGlyphs" stroke="#404040" stroke-width="0.2">198</text>
<text x="553.82" y="328.93" font-size="8.6" fill="#404040" font-weight="normal" dominant-baseline="central" textLength="17.29" lengthAdjust="spacingAndGlyphs" stroke="#404040" stroke-width="0.2">1,182</text>
<text x="336.43" y="338.97" font-size="8.6" fill="#404040" font-weight="normal" dominant-baseline="central" textLength="10.01" lengthAdjust="spacingAndGlyphs" stroke="#404040" stroke-width="0.2">R 7</text>
<text x="375.91" y="338.97" font-size="8.6" fill="#404040" font-weight="normal" dominant-baseline="central" textLength="10.32" lengthAdjust="spacingAndGlyphs" stroke="#404040" stroke-width="0.2">234</text>
<text x="406.36" y="338.97" font-size="8.6" fill="#404040" font-weight="normal" dominant-baseline="central" textLength="10.63" lengthAdjust="spacingAndGlyphs" stroke="#404040" stroke-width="0.2">189</text>
<text x="437.06" y="338.97" font-size="8.6" fill="#404040" font-weight="normal" dominant-baseline="central" textLength="10.63" lengthAdjust="spacingAndGlyphs" stroke="#404040" stroke-width="0.2">191</text>
<text x="467.76" y="338.97" font-size="8.6" fill="#404040" font-weight="normal" dominant-baseline="central" textLength="10.55" lengthAdjust="spacingAndGlyphs" stroke="#404040" stroke-width="0.2">196</text>
<text x="498.46" y="338.97" font-size="8.6" fill="#404040" font-weight="normal" dominant-baseline="central" textLength="10.63" lengthAdjust="spacingAndGlyphs" stroke="#404040" stroke-width="0.2">172</text>
<text x="529.16" y="338.97" font-size="8.6" fill="#404040" font-weight="normal" dominant-baseline="central" textLength="10.63" lengthAdjust="spacingAndGlyphs" stroke="#404040" stroke-width="0.2">179</text>
<text x="553.82" y="338.97" font-size="8.6" fill="#404040" font-weight="normal" dominant-baseline="central" textLength="17.29" lengthAdjust="spacingAndGlyphs" stroke="#404040" stroke-width="0.2">1,161</text>
<text x="332.12" y="349.33" font-size="9" fill="#404040" font-weight="normal" dominant-baseline="central" textLength="19.07" lengthAdjust="spacingAndGlyphs" stroke="#404040" stroke-width="0.2">増減数</text>
<text x="379.05" y="349.03" font-size="8.6" fill="#404040" font-weight="normal" dominant-baseline="central" textLength="7.19" lengthAdjust="spacingAndGlyphs" stroke="#404040" stroke-width="0.2">14</text>
<text x="413.33" y="349.03" font-size="8.6" fill="#404040" font-weight="normal" dominant-baseline="central" textLength="3.51" lengthAdjust="spacingAndGlyphs" stroke="#404040" stroke-width="0.2">4</text>
<text x="440.35" y="349.03" font-size="8.6" fill="#404040" font-weight="normal" dominant-baseline="central" textLength="7.19" lengthAdjust="spacingAndGlyphs" stroke="#404040" stroke-width="0.2">14</text>
<text x="474.56" y="349.03" font-size="8.6" fill="#404040" font-weight="normal" dominant-baseline="central" textLength="3.76" lengthAdjust="spacingAndGlyphs" stroke="#404040" stroke-width="0.2">0</text>
<text x="498.65" y="349.03" font-size="8.6" fill="#404040" font-weight="normal" dominant-baseline="central" textLength="10.30" lengthAdjust="spacingAndGlyphs" stroke="#404040" stroke-width="0.2">-34</text>
<text x="529.35" y="349.03" font-size="8.6" fill="#404040" font-weight="normal" dominant-baseline="central" textLength="10.48" lengthAdjust="spacingAndGlyphs" stroke="#404040" stroke-width="0.2">-19</text>
<text x="560.65" y="349.03" font-size="8.6" fill="#404040" font-weight="normal" dominant-baseline="central" textLength="10.48" lengthAdjust="spacingAndGlyphs" stroke="#404040" stroke-width="0.2">-21</text>
<text x="332.12" y="359.38" font-size="9" fill="#404040" font-weight="normal" dominant-baseline="central" textLength="19.14" lengthAdjust="spacingAndGlyphs" stroke="#404040" stroke-width="0.2">増減率</text>
<text x="372.62" y="359.07" font-size="8.6" fill="#404040" font-weight="normal" dominant-baseline="central" textLength="13.65" lengthAdjust="spacingAndGlyphs" stroke="#404040" stroke-width="0.2">6.4%</text>
<text x="403.22" y="359.07" font-size="8.6" fill="#404040" font-weight="normal" dominant-baseline="central" textLength="13.65" lengthAdjust="spacingAndGlyphs" stroke="#404040" stroke-width="0.2">2.2%</text>
<text x="433.92" y="359.07" font-size="8.6" fill="#404040" font-weight="normal" dominant-baseline="central" textLength="13.65" lengthAdjust="spacingAndGlyphs" stroke="#404040" stroke-width="0.2">7.9%</text>
<text x="464.69" y="359.07" font-size="8.6" fill="#404040" font-weight="normal" dominant-baseline="central" textLength="13.58" lengthAdjust="spacingAndGlyphs" stroke="#404040" stroke-width="0.2">0.0%</text>
<text x="488.78" y="359.07" font-size="8.6" fill="#404040" font-weight="normal" dominant-baseline="central" textLength="20.21" lengthAdjust="spacingAndGlyphs" stroke="#404040" stroke-width="0.2">-16.5%</text>
<text x="522.77" y="359.07" font-size="8.6" fill="#404040" font-weight="normal" dominant-baseline="central" textLength="16.91" lengthAdjust="spacingAndGlyphs" stroke="#404040" stroke-width="0.2">-9.6%</text>
<text x="554.07" y="359.07" font-size="8.6" fill="#404040" font-weight="normal" dominant-baseline="central" textLength="16.91" lengthAdjust="spacingAndGlyphs" stroke="#404040" stroke-width="0.2">-1.8%</text>
<text x="338.38" y="390.80" font-size="5.8" fill="#111" font-weight="normal" dominant-baseline="central" textLength="133.82" lengthAdjust="spacingAndGlyphs" stroke="#111" stroke-width="0.2">(注)・増減数(率)は、前年と比較した値である。</text>
<path d="M480.5 438 L488 426 L496 426 L508 444.5 L501 444.5 L492 432 L487.5 438 Z M497 423.5 L500 423.5 L499 428 L496 428 Z M501.5 423.5 L504.5 423.5 L503.5 428 L500.5 428 Z M507 426 L524 426 L508 447 L501.5 447 L514.5 431 L506 431 Z M514 437.5 L519 437 L522.5 446 L517.5 446 Z M529 421 L535.5 421 L528 447 L521.5 447 Z M532 433.5 L542.5 434.5 L541.5 439.5 L530.5 438.5 Z M542 426.5 L569.5 426.5 L560.5 447 L553 447 L561 432 L540 432 Z M557 419 L564.5 419 L545.5 447 L538 447 Z M566 431.8 L589.5 431.8 L589 434 L565 434 Z" fill="#f4a3a8" stroke="#f4a3a8" stroke-width="5" stroke-linejoin="miter"/>
<path d="M480.5 438 L488 426 L496 426 L508 444.5 L501 444.5 L492 432 L487.5 438 Z M497 423.5 L500 423.5 L499 428 L496 428 Z M501.5 423.5 L504.5 423.5 L503.5 428 L500.5 428 Z M507 426 L524 426 L508 447 L501.5 447 L514.5 431 L506 431 Z M514 437.5 L519 437 L522.5 446 L517.5 446 Z M529 421 L535.5 421 L528 447 L521.5 447 Z M532 433.5 L542.5 434.5 L541.5 439.5 L530.5 438.5 Z M542 426.5 L569.5 426.5 L560.5 447 L553 447 L561 432 L540 432 Z M557 419 L564.5 419 L545.5 447 L538 447 Z M566 431.8 L589.5 431.8 L589 434 L565 434 Z" fill="#fff" stroke="#fff" stroke-width="2.8" stroke-linejoin="miter"/>
<path d="M480.5 438 L488 426 L496 426 L508 444.5 L501 444.5 L492 432 L487.5 438 Z M497 423.5 L500 423.5 L499 428 L496 428 Z M501.5 423.5 L504.5 423.5 L503.5 428 L500.5 428 Z M507 426 L524 426 L508 447 L501.5 447 L514.5 431 L506 431 Z M514 437.5 L519 437 L522.5 446 L517.5 446 Z M529 421 L535.5 421 L528 447 L521.5 447 Z M532 433.5 L542.5 434.5 L541.5 439.5 L530.5 438.5 Z M542 426.5 L569.5 426.5 L560.5 447 L553 447 L561 432 L540 432 Z M557 419 L564.5 419 L545.5 447 L538 447 Z M566 431.8 L589.5 431.8 L589 434 L565 434 Z" fill="#f4a3a8"/>
<text x="570.3" y="447" font-size="13.5" font-weight="bold" fill="#8c8c8c" textLength="22.7" lengthAdjust="spacingAndGlyphs">Web</text>
</svg></body></html>
